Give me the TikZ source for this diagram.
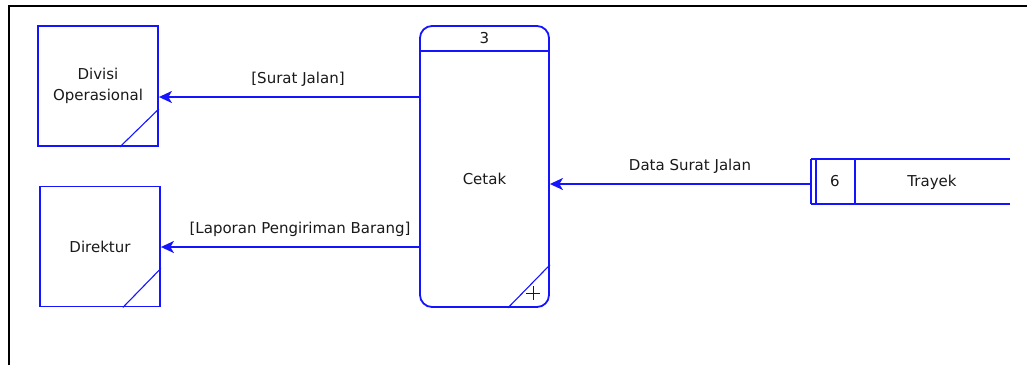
\documentclass[tikz,border=0pt]{standalone}
\usepackage{fontspec}
\setmainfont{DejaVu Sans}
\usetikzlibrary{arrows.meta}
\definecolor{dfd}{RGB}{20,20,255}
\definecolor{ink}{RGB}{25,25,25}
\begin{document}
\begin{tikzpicture}[x=1pt,y=-1pt,
  every node/.style={font=\fontsize{15}{21}\selectfont, text=ink, inner sep=0pt},
  entity/.style={draw=dfd, line width=1.8pt, minimum width=120pt, minimum height=120pt, align=center},
  process/.style={draw=dfd, line width=1.8pt, rounded corners=12pt, minimum width=129pt, minimum height=281pt},
  store/.style={minimum width=199pt, minimum height=45pt},
  edge/.style={draw=dfd, line width=1.8pt},
  slash/.style={draw=dfd, line width=1.1pt},
  flow/.style={draw=dfd, line width=1.8pt, -{Stealth[length=13pt,width=12pt,inset=3.5pt]}},
  frame/.style={draw=black, line width=2pt}]
\useasboundingbox (0,0) rectangle (1027,365);

% page frame (top and left edges)
\draw[frame] (9,365) -- (9,6) -- (1027,6);

% external entities
\node[entity] (divisi) at (98,86) {Divisi\\Operasional};
\draw[slash] ([xshift=-39pt]divisi.south east) -- ([yshift=38pt]divisi.south east);
\node[entity] (direktur) at (100,246.5) {Direktur};
\draw[slash] ([xshift=-38pt]direktur.south east) -- ([yshift=39pt]direktur.south east);

% process 3
\node[process] (cetak) at (484.5,166.5) {};
\draw[edge] (cetak.west |- 0,51) -- (cetak.east |- 0,51);
\node (cetakno) at (484.5,38) {3};
\node (cetakname) at (484.5,179) {Cetak};
\draw[slash] ([xshift=-42pt]cetak.south east) -- ([yshift=43pt]cetak.south east);
\draw[ink, line width=1pt] (526,293) -- (540,293) (533,286) -- (533,300);

% data store 6
\node[store] (trayek) at (910.5,181.5) {};
\draw[edge] (trayek.north west) -- (trayek.north east)
            (trayek.south west) -- (trayek.south east)
            (trayek.north west) -- (trayek.south west)
            ([xshift=5pt]trayek.north west) -- ([xshift=5pt]trayek.south west)
            ([xshift=44pt]trayek.north west) -- ([xshift=44pt]trayek.south west);
\node (trayekno) at (835,181) {6};
\node (trayekname) at (932,182) {Trayek};

% data flows
\draw[flow] (cetak.west |- 0,97) -- (divisi.east |- 0,97);
\node (f1) at (298,79) {[Surat Jalan]};
\draw[flow] (cetak.west |- 0,247) -- (direktur.east |- 0,247);
\node (f2) at (300,229) {[Laporan Pengiriman Barang]};
\draw[flow] (trayek.west |- 0,184) -- (cetak.east |- 0,184);
\node (f3) at (690,166) {Data Surat Jalan};
\end{tikzpicture}
\end{document}
